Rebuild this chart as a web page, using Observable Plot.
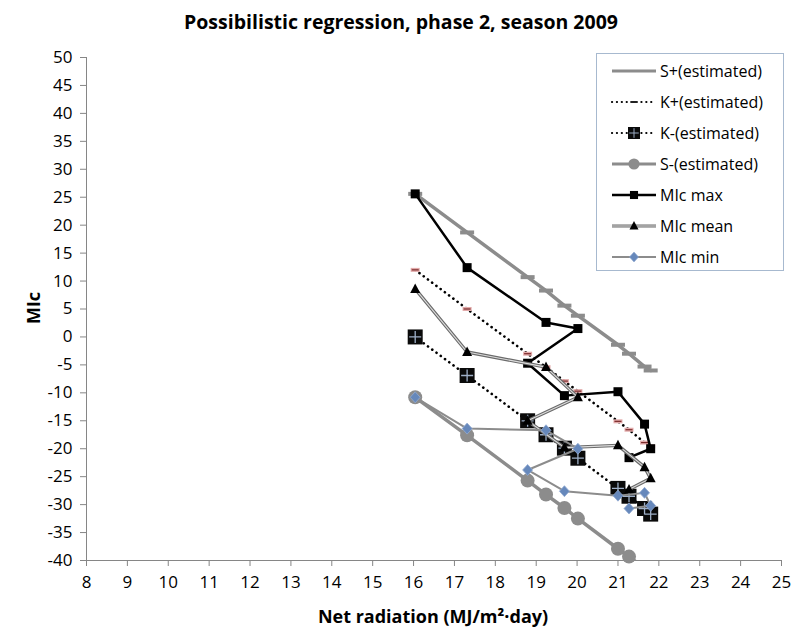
<!DOCTYPE html>
<html>
<head>
<meta charset="utf-8">
<script src="https://cdn.jsdelivr.net/npm/d3@7"></script>
<script src="https://cdn.jsdelivr.net/npm/@observablehq/plot@0.6"></script>
<style>
html,body{margin:0;padding:0;background:#fff;}
#chart svg{display:block;}
</style>
</head>
<body>
<div id="chart"></div>
<script>
// ---- data (in the original data order) ----
const netRadiation = [16.04, 17.31, 19.24, 20.02, 18.79, 19.69, 21.0, 21.65, 21.8, 21.27];
const sPlus  = [25.6, 18.7, 8.3, 3.8, 10.7, 5.6, -1.4, -5.3, -6.0, -3.0];
const kPlus  = [12.0, 5.0, -5.4, -9.7, -3.0, -7.9, -15.1, -18.9, -19.6, -16.6];
const kMinus = [0.0, -6.9, -17.5, -21.7, -15.0, -19.9, -27.1, -30.7, -31.7, -28.5];
const sMinus = [-10.8, -17.6, -28.2, -32.5, -25.7, -30.6, -37.9, -41.4, -42.2, -39.3];
const micMax  = [25.6, 12.4, 2.6, 1.5, -4.7, -10.5, -9.8, -15.6, -20.0, -21.6];
const micMean = [8.6, -2.7, -5.4, -10.8, -15.0, -19.8, -19.4, -23.3, -25.3, -27.3];
const micMin  = [-10.8, -16.4, -16.7, -20.0, -23.8, -27.6, -28.4, -27.9, -30.2, -30.7];

const xTicks = d3.range(8, 26, 1);
const yTicks = d3.range(-40, 55, 5);
const seriesNames = ["S+(estimated)", "K+(estimated)", "K-(estimated)", "S-(estimated)", "MIc max", "MIc mean", "MIc min"];
const titleText = "Possibilistic regression, phase 2, season 2009";
const xLabel = "Net radiation (MJ/m²·day)";
const yLabel = "MIc";

// ---- table built from the arrays ----
const rows = netRadiation.map((x, i) => ({
  x, sPlus: sPlus[i], kPlus: kPlus[i], kMinus: kMinus[i], sMinus: sMinus[i],
  max: micMax[i], mean: micMean[i], min: micMin[i]
}));
const sorted = d3.sort(rows, d => d.x);
const visible = key => rows.filter(d => d[key] >= -40 && d[key] <= 50);

// ---- marker shapes ----
const sym = {
  sDash:   {draw(c){ c.rect(-7, -2, 14, 4); }},
  kDash:   {draw(c){ c.rect(-4.5, -2, 9, 4); }},
  kDashIn: {draw(c){ c.moveTo(-3.5, 0); c.lineTo(3.5, 0); }},
  bigSq:   {draw(c){ c.rect(-7.5, -7.5, 15, 15); }},
  cross:   {draw(c){ c.moveTo(-6, 0); c.lineTo(6, 0); c.moveTo(0, -6); c.lineTo(0, 6); }},
  circle:  {draw(c){ c.moveTo(7, 0); c.arc(0, 0, 7, 0, 2 * Math.PI); }},
  square:  {draw(c){ c.rect(-4.5, -4.5, 9, 9); }},
  tri:     {draw(c){ c.moveTo(0, -5.5); c.lineTo(5, 4); c.lineTo(-5, 4); c.closePath(); }},
  diamond: {draw(c){ c.moveTo(0, -5.5); c.lineTo(5, 0); c.lineTo(0, 5.5); c.lineTo(-5, 0); c.closePath(); }}
};

const GRAY = "#8c8c8c";
const dotted = {stroke: "black", strokeWidth: 2.6, strokeDasharray: "0.1 5.2", strokeLinecap: "round"};

const chart = Plot.plot({
  width: 792, height: 629,
  marginLeft: 86, marginRight: 11, marginTop: 57, marginBottom: 69,
  x: {domain: [8, 25]},
  y: {domain: [-40, 50]},
  style: {fontFamily: "'Open Sans', sans-serif", fontSize: "17px", color: "black", background: "white", overflow: "visible"},
  marks: [
    Plot.ruleX([8], {stroke: "#868686", strokeWidth: 1}),
    Plot.ruleY([-40], {stroke: "#868686", strokeWidth: 1}),
    Plot.axisX({ticks: xTicks, tickSize: 6, tickPadding: 9, stroke: "#868686", fill: "black", fontSize: 17, tickFormat: d => String(d), label: null}),
    Plot.axisY({ticks: yTicks, tickSize: 6, tickPadding: 8, stroke: "#868686", fill: "black", fontSize: 17, tickFormat: d => String(d), label: null}),

    // S+
    Plot.line(sorted, {x: "x", y: "sPlus", stroke: GRAY, strokeWidth: 3.5, clip: true}),
    Plot.dot(visible("sPlus"), {x: "x", y: "sPlus", symbol: sym.sDash, fill: GRAY, stroke: "none"}),
    // K+
    Plot.line(sorted, {x: "x", y: "kPlus", clip: true, ...dotted}),
    Plot.dot(visible("kPlus"), {x: "x", y: "kPlus", symbol: sym.kDash, fill: "#e2aaaa", stroke: "none"}),
    Plot.dot(visible("kPlus"), {x: "x", y: "kPlus", symbol: sym.kDashIn, fill: "none", stroke: "#7a2a2a", strokeWidth: 1.2}),
    // K-
    Plot.line(sorted, {x: "x", y: "kMinus", clip: true, ...dotted}),
    Plot.dot(visible("kMinus"), {x: "x", y: "kMinus", symbol: sym.bigSq, fill: "#0a0a0a", stroke: "none"}),
    Plot.dot(visible("kMinus"), {x: "x", y: "kMinus", symbol: sym.cross, fill: "none", stroke: "#9fb0c8", strokeWidth: 1.3}),
    // S-
    Plot.line(sorted, {x: "x", y: "sMinus", stroke: GRAY, strokeWidth: 3.5, clip: true}),
    Plot.dot(visible("sMinus"), {x: "x", y: "sMinus", symbol: sym.circle, fill: GRAY, stroke: "none"}),
    // MIc max
    Plot.line(rows, {x: "x", y: "max", stroke: "black", strokeWidth: 2.5, clip: true}),
    Plot.dot(rows, {x: "x", y: "max", symbol: sym.square, fill: "black", stroke: "none"}),
    // MIc mean
    Plot.line(rows, {x: "x", y: "mean", stroke: "#6a6a6a", strokeWidth: 3.4, clip: true}),
    Plot.line(rows, {x: "x", y: "mean", stroke: "#dcdcdc", strokeWidth: 1.1, clip: true}),
    Plot.dot(rows, {x: "x", y: "mean", symbol: sym.tri, fill: "black", stroke: "none"}),
    // MIc min
    Plot.line(rows, {x: "x", y: "min", stroke: GRAY, strokeWidth: 2, clip: true}),
    Plot.dot(rows, {x: "x", y: "min", symbol: sym.diamond, fill: "#6688bb", stroke: "#93abd2", strokeWidth: 0.8})
  ]
});

document.getElementById("chart").appendChild(chart);

// ---- title, axis titles, legend ----
const svg = d3.select(chart);
const font = "'Open Sans', sans-serif";
svg.append("text").attr("x", 401).attr("y", 29).attr("text-anchor", "middle")
  .attr("font-family", font).attr("font-weight", "bold").attr("font-size", 19.5).attr("fill", "black").text(titleText);
svg.append("text").attr("x", 433).attr("y", 623).attr("text-anchor", "middle")
  .attr("font-family", font).attr("font-weight", "bold").attr("font-size", 18).attr("fill", "black").text(xLabel);
svg.append("text").attr("transform", "translate(40,308) rotate(-90)").attr("text-anchor", "middle")
  .attr("font-family", font).attr("font-weight", "bold").attr("font-size", 18).attr("fill", "black").text(yLabel);

const lg = svg.append("g");
lg.append("rect").attr("x", 596.5).attr("y", 53.5).attr("width", 187).attr("height", 217)
  .attr("fill", "white").attr("stroke", "#a7b9cf").attr("stroke-width", 1);
const path = s => d3.symbol(s)();
const items = [
  g => { g.append("line").attr("x1", 612).attr("x2", 656).attr("stroke", GRAY).attr("stroke-width", 3); },
  g => { g.append("line").attr("x1", 612).attr("x2", 656).attr("stroke", "black").attr("stroke-width", 2.2).attr("stroke-dasharray", "0.1 4.8").attr("stroke-linecap", "round");
         g.append("path").attr("transform", "translate(634,0)").attr("d", path(sym.kDashIn)).attr("stroke", "#222").attr("stroke-width", 2); },
  g => { g.append("line").attr("x1", 612).attr("x2", 656).attr("stroke", "black").attr("stroke-width", 2.2).attr("stroke-dasharray", "0.1 4.8").attr("stroke-linecap", "round");
         g.append("path").attr("transform", "translate(634,0) scale(0.8)").attr("d", path(sym.bigSq)).attr("fill", "#0a0a0a");
         g.append("path").attr("transform", "translate(634,0) scale(0.8)").attr("d", path(sym.cross)).attr("fill", "none").attr("stroke", "#9fb0c8").attr("stroke-width", 1.2); },
  g => { g.append("line").attr("x1", 612).attr("x2", 656).attr("stroke", GRAY).attr("stroke-width", 3);
         g.append("path").attr("transform", "translate(634,0) scale(0.8)").attr("d", path(sym.circle)).attr("fill", GRAY); },
  g => { g.append("line").attr("x1", 612).attr("x2", 656).attr("stroke", "black").attr("stroke-width", 2.5);
         g.append("path").attr("transform", "translate(634,0) scale(0.9)").attr("d", path(sym.square)).attr("fill", "black"); },
  g => { g.append("line").attr("x1", 612).attr("x2", 656).attr("stroke", "#6a6a6a").attr("stroke-width", 3);
         g.append("line").attr("x1", 612).attr("x2", 656).attr("stroke", "#dcdcdc").attr("stroke-width", 1);
         g.append("path").attr("transform", "translate(634,0) scale(0.9)").attr("d", path(sym.tri)).attr("fill", "black"); },
  g => { g.append("line").attr("x1", 612).attr("x2", 656).attr("stroke", GRAY).attr("stroke-width", 2);
         g.append("path").attr("transform", "translate(634,0) scale(0.9)").attr("d", path(sym.diamond)).attr("fill", "#6688bb").attr("stroke", "#93abd2").attr("stroke-width", 0.8); }
];
seriesNames.forEach((name, i) => {
  const g = lg.append("g").attr("transform", `translate(0,${71 + i * 31})`);
  items[i](g);
  g.append("text").attr("x", 660).attr("y", 0).attr("dy", "0.35em").attr("text-anchor", "start")
    .attr("font-family", font).attr("font-size", 16).attr("fill", "black").text(name);
});
</script>
</body>
</html>
